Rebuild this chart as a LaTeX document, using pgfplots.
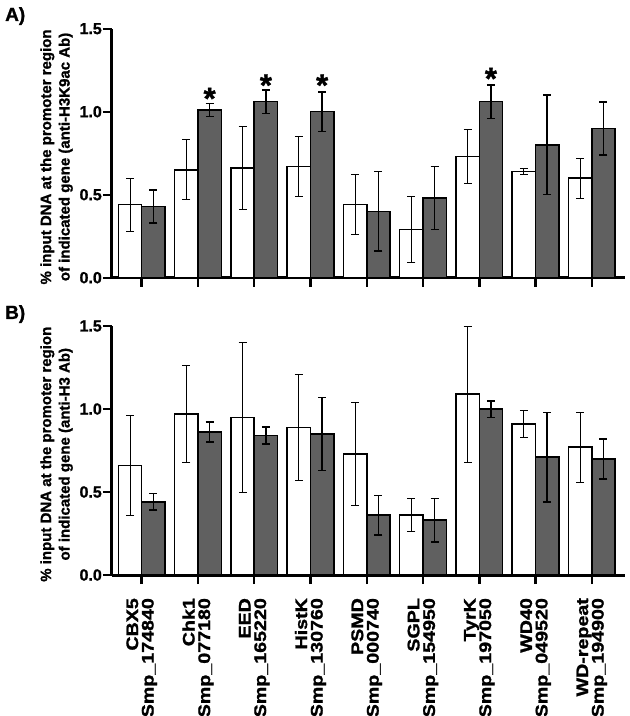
\documentclass[border=0pt]{standalone}
\usepackage{fontspec}
\setmainfont{Liberation Sans}[BoldFeatures={FakeBold=1.2}]
\usepackage{pgfplots}
\pgfplotsset{compat=1.18}

\definecolor{darkbar}{RGB}{96,96,96}

\pgfplotsset{
  panel/.style={
    scale only axis,
    width=513pt, height=249pt,
    xmin=-0.528, xmax=8.59,
    ymin=0, ymax=1.5,
    axis x line*=bottom, axis y line*=left,
    axis line style={line width=3pt, -},
    tick align=outside,
    major tick length=9pt,
    xtick={0,...,8},
    ytick={0,0.5,1,1.5},
    yticklabels={0.0,0.5,1.0,1.5},
    x tick style={line width=2.5pt, black},
    y tick style={line width=2pt, black},
    yticklabel style={font=\fontsize{16}{16}\selectfont\bfseries, inner sep=1pt},
    ylabel style={at={(axis description cs:-0.076,0.485)}, anchor=south, inner sep=0pt,
      align=center, font=\fontsize{15}{18.5}\selectfont\bfseries},
    clip=false,
  },
  % bars are centred on their own x (group +- 0.207), so the error bars sit on them
  whitebar/.style={ybar, bar width=23.3pt, bar shift=0pt, fill=white, draw=black,
    line width=1.5pt,
    error bars/.cd, y dir=both, y explicit,
    error bar style={line width=1pt, black},
    error mark options={rotate=90, mark size=4pt, line width=1pt, black}},
  darkbar/.style={ybar, bar width=23.3pt, bar shift=0pt, fill=darkbar, draw=black,
    line width=1.5pt,
    error bars/.cd, y dir=both, y explicit,
    error bar style={line width=1.6pt, black},
    error mark options={rotate=90, mark size=4pt, line width=1.6pt, black}},
}

\begin{document}
\begin{tikzpicture}

% panel A: anti-H3K9ac
\begin{axis}[panel, name=A, at={(112pt,438.3pt)}, anchor=south west,
  xticklabels={},
  ylabel={\% input DNA at the promoter region\\of indicated gene (anti-H3K9ac Ab)}]
\addplot[whitebar] coordinates {
  (-0.207,0.44) +- (0,0.16)
  (0.793,0.65) +- (0,0.18)
  (1.793,0.66) +- (0,0.25)
  (2.793,0.67) +- (0,0.18)
  (3.793,0.44) +- (0,0.18)
  (4.793,0.29) +- (0,0.20)
  (5.793,0.73) +- (0,0.16)
  (6.793,0.64) +- (0,0.02)
  (7.793,0.60) +- (0,0.12)
};
\addplot[darkbar] coordinates {
  (0.207,0.43) +- (0,0.10)
  (1.207,1.01) +- (0,0.04)
  (2.207,1.06) +- (0,0.07)
  (3.207,1.00) +- (0,0.12)
  (4.207,0.40) +- (0,0.24)
  (5.207,0.48) +- (0,0.19)
  (6.207,1.06) +- (0,0.10)
  (7.207,0.80) +- (0,0.30)
  (8.207,0.90) +- (0,0.16)
};
% significance stars
\addplot[draw=none, nodes near coords, point meta=explicit symbolic,
  every node near coord/.style={anchor=center, inner sep=0pt,
    font=\fontsize{31}{31}\selectfont\bfseries}] coordinates {
  (1.207,1.08) [*]
  (2.207,1.16) [*]
  (3.207,1.16) [*]
  (6.207,1.20) [*]
};
\end{axis}

% panel B: anti-H3
\begin{axis}[panel, name=B, at={(112pt,141pt)}, anchor=south west,
  xticklabels={{CBX5\\Smp\_174840},{Chk1\\Smp\_077180},{EED\\Smp\_165220},
    {HistK\\Smp\_130760},{PSMD\\Smp\_000740},{SGPL\\Smp\_154950},
    {TyrK\\Smp\_197050},{WD40\\Smp\_049520},{WD-repeat\\Smp\_194900}},
  xticklabel shift=10pt,
  xticklabel style={rotate=90, xscale=1.17, anchor=east, align=right,
    font=\fontsize{16.8}{15.5}\selectfont\bfseries},
  ylabel={\% input DNA at the promoter region\\of indicated gene (anti-H3 Ab)}]
\addplot[whitebar] coordinates {
  (-0.207,0.66) +- (0,0.30)
  (0.793,0.97) +- (0,0.29)
  (1.793,0.95) +- (0,0.45)
  (2.793,0.89) +- (0,0.32)
  (3.793,0.73) +- (0,0.31)
  (4.793,0.36) +- (0,0.10)
  (5.793,1.09) +- (0,0.41)
  (6.793,0.91) +- (0,0.08)
  (7.793,0.77) +- (0,0.21)
};
\addplot[darkbar] coordinates {
  (0.207,0.44) +- (0,0.05)
  (1.207,0.86) +- (0,0.06)
  (2.207,0.84) +- (0,0.05)
  (3.207,0.85) +- (0,0.22)
  (4.207,0.36) +- (0,0.12)
  (5.207,0.33) +- (0,0.13)
  (6.207,1.00) +- (0,0.05)
  (7.207,0.71) +- (0,0.27)
  (8.207,0.70) +- (0,0.12)
};
\end{axis}

\node[anchor=north west, inner sep=0pt, font=\fontsize{19}{19}\selectfont\bfseries] at (5pt,709pt) {A)};
\node[anchor=north west, inner sep=0pt, font=\fontsize{19}{19}\selectfont\bfseries] at (5pt,411pt) {B)};

\pgfresetboundingbox
\useasboundingbox (0pt,0pt) rectangle (630pt,716pt);
\end{tikzpicture}
\end{document}
